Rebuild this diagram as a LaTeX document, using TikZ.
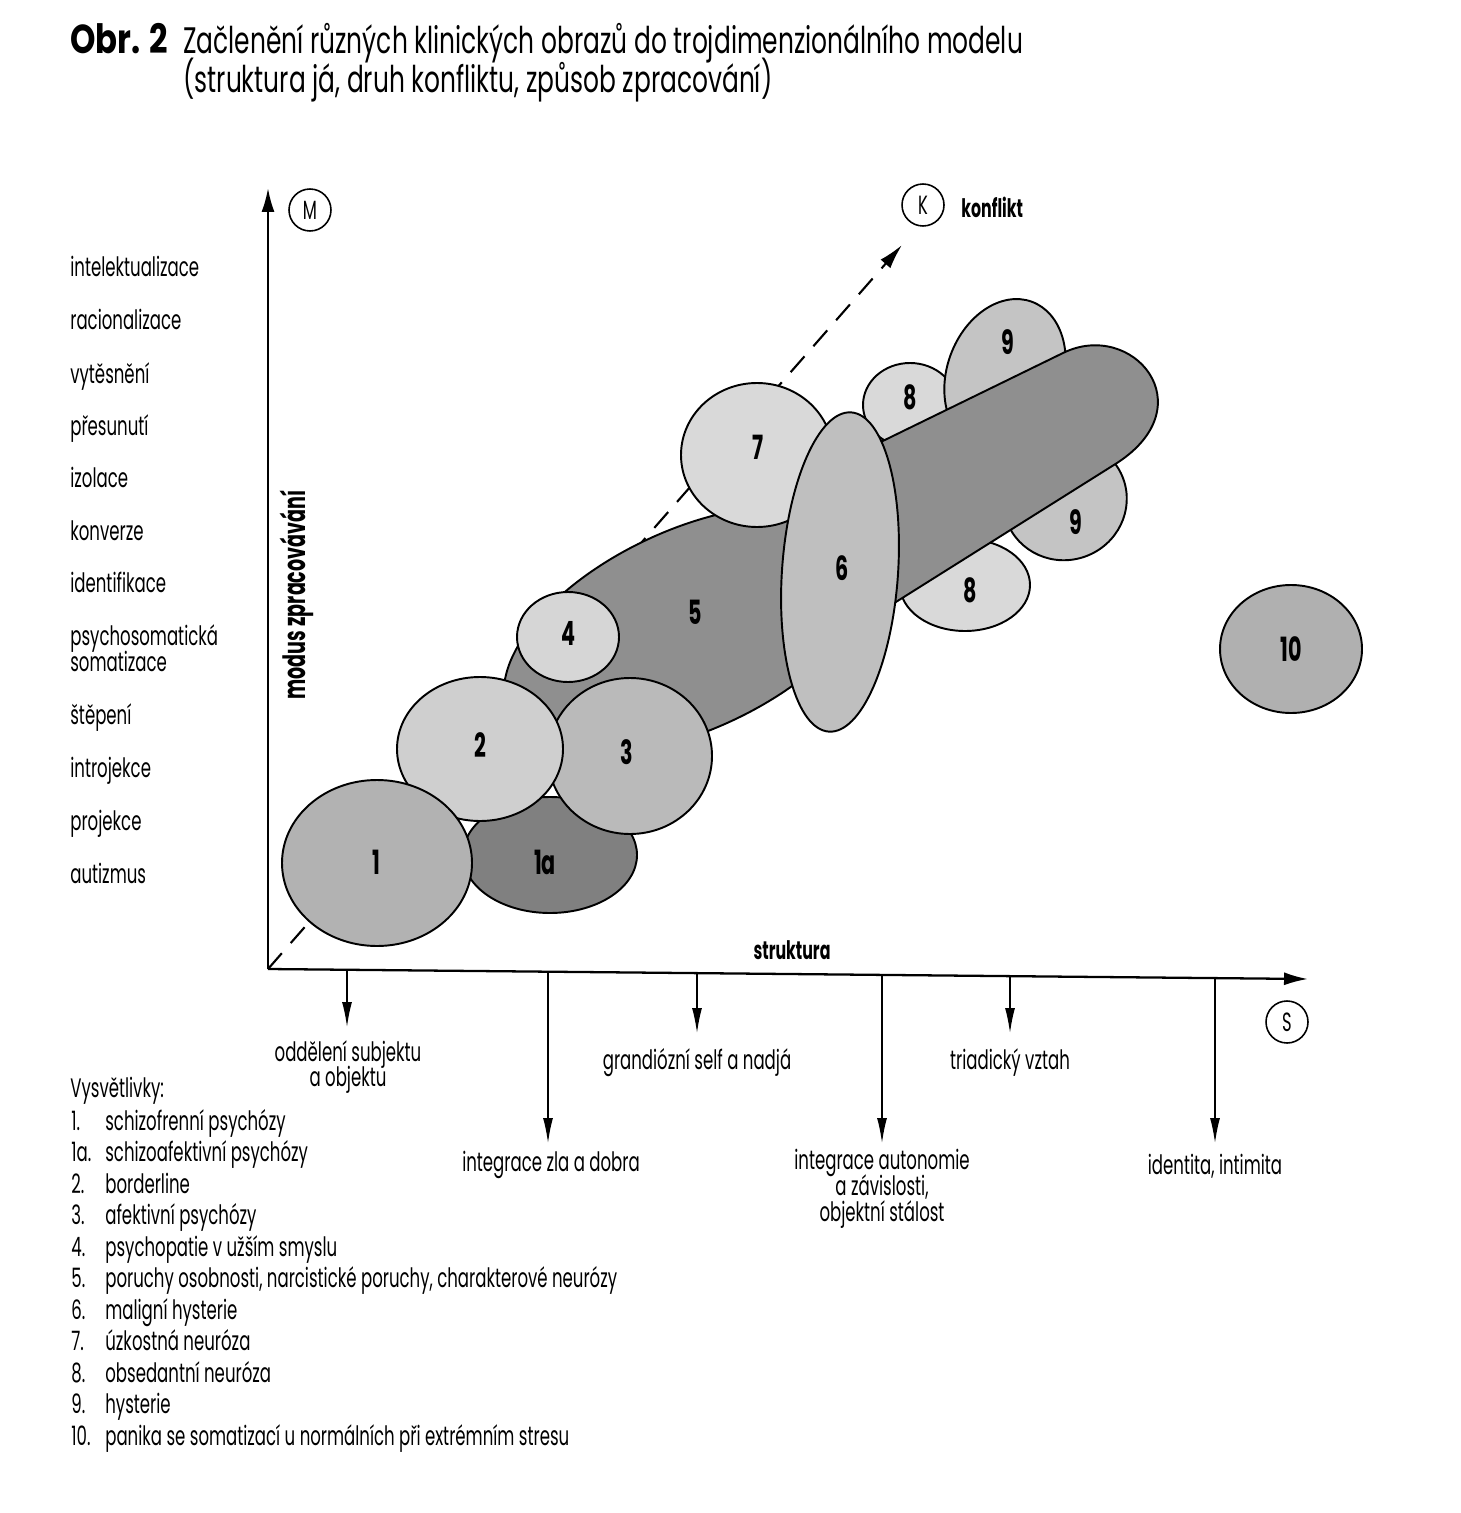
\documentclass[tikz,border=0pt]{standalone}
\usepackage{fontspec}
\setmainfont{Poppins}[FakeStretch=0.62]
\newfontfamily\obrfont{Poppins}[FakeStretch=0.8]
\newfontfamily\titlefont{Poppins}[FakeStretch=0.675]
\usetikzlibrary{arrows.meta}
\definecolor{gA}{gray}{0.70}
\definecolor{gAa}{gray}{0.50}
\definecolor{gB}{gray}{0.81}
\definecolor{gC}{gray}{0.73}
\definecolor{gD}{gray}{0.84}
\definecolor{gE}{gray}{0.56}
\definecolor{gF}{gray}{0.75}
\definecolor{gG}{gray}{0.85}
\definecolor{gH}{gray}{0.85}
\definecolor{gI}{gray}{0.77}
\definecolor{gJ}{gray}{0.69}
\tikzset{
  blob/.style={draw=black, line width=1.1pt},
  lbl/.style={font=\fontsize{15.2}{17}\selectfont, inner sep=0pt, anchor=base},
  lbll/.style={font=\fontsize{15.2}{17}\selectfont, inner sep=0pt, anchor=base west},
  ttl/.style={font=\titlefont\fontsize{21}{24}\selectfont, inner sep=0pt, anchor=base west},
  bold/.style={font=\bfseries\fontsize{14.5}{16}\selectfont, inner sep=0pt},
  num/.style={font=\bfseries\fontsize{19}{22}\selectfont, inner sep=0pt},
  axisline/.style={line width=1.3pt, -{Latex[length=0.48cm,width=0.26cm]}},
  tickarrow/.style={line width=0.8pt, -{Latex[length=0.5cm,width=0.2cm]}},
  letter/.style={circle, draw, line width=0.9pt, minimum size=0.84cm, inner sep=0pt, font=\fontsize{15}{16}\selectfont},
}
\begin{document}
\begin{tikzpicture}[x=0.02cm,y=-0.02cm]
\path[use as bounding box, fill=white] (0,0) rectangle (1460,1513);

% title
\node[font=\obrfont\bfseries\fontsize{23}{26}\selectfont, inner sep=0pt, anchor=base west] (obr) at (70,54) {Obr. 2};
\node[ttl] (t1) at (183,54) {Začlenění různých klinických obrazů do trojdimenzionálního modelu};
\node[ttl] (t2) at (183,93) {(struktura já, druh konfliktu, způsob zpracování)};

% axes coordinates
\coordinate (O) at (268,969);
\coordinate (Mtip) at (268,188);
\coordinate (Stip) at (1308,979);
\coordinate (Ktip) at (902,245);

% dashed conflict axis
\draw[line width=1.2pt, dash pattern=on 0.42cm off 0.27cm, -{Latex[length=0.5cm,width=0.26cm]}] (O) -- (Ktip);

% blobs (back to front)
\draw[blob, fill=gH] (910,405) ellipse [x radius=47, y radius=42];
\draw[blob, fill=gI, rotate around={-20:(1005,375)}] (1005,375) ellipse [x radius=58, y radius=78];
\draw[blob, fill=gI, rotate around={20:(1065,500)}] (1065,500) ellipse [x radius=62, y radius=60];
\draw[blob, fill=gH] (965,585) ellipse [x radius=65, y radius=46];
\draw[blob, fill=gE] (850,457) -- (1063,353) .. controls (1132,319) and (1206,405) .. (1117,463) -- (880,612) -- cycle;
\draw[blob, fill=gE, rotate around={25:(690,630)}] (690,630) ellipse [x radius=200, y radius=100];
\draw[blob, fill=gAa] (550,855) ellipse [x radius=87, y radius=58];
\draw[blob, fill=gC] (630,756) ellipse [x radius=82, y radius=78];
\draw[blob, fill=gB] (480,749) ellipse [x radius=83, y radius=72];
\draw[blob, fill=gA] (377,863) ellipse [x radius=95, y radius=83];
\draw[blob, fill=gD] (568,637) ellipse [x radius=51, y radius=45];
\draw[blob, fill=gG] (757,455) ellipse [x radius=76, y radius=72];
\draw[blob, fill=gF, rotate around={-4:(840,572)}] (840,572) ellipse [x radius=58, y radius=160];
\draw[blob, fill=gJ] (1291,649) ellipse [x radius=71, y radius=64];

% blob numbers
\node[num] (n1) at (376,862) {1};
\node[num] (n1a) at (545,862) {1a};
\node[num] (n2) at (480,745) {2};
\node[num] (n3) at (627,752) {3};
\node[num] (n4) at (568,633) {4};
\node[num] (n5) at (695,612) {5};
\node[num] (n6) at (842,568) {6};
\node[num] (n7) at (758,447) {7};
\node[num] (n8a) at (910,397) {8};
\node[num] (n9a) at (1008,342) {9};
\node[num] (n9b) at (1076,522) {9};
\node[num] (n8b) at (970,590) {8};
\node[num] (n10) at (1291,649) {10};

% main axes
\draw[axisline] (O) -- (Mtip);
\draw[axisline] (O) -- (Stip);

\node[letter] (M) at (310,210) {M};
\node[letter] (K) at (923,205) {K};
\node[letter] (S) at (1287,1022) {S};
\node[bold, anchor=west] (konf) at (961,207) {konflikt};
\node[bold] (strk) at (792,950) {struktura};
\node[font=\bfseries\fontsize{17.5}{19}\selectfont, inner sep=0pt, rotate=90] (modus) at (297,595) {modus zpracovávání};

% tick arrows on structure axis
\coordinate (a1) at (347,969.7);  \coordinate (e1) at (347,1027);
\coordinate (a2) at (548,971.4);  \coordinate (e2) at (548,1143);
\coordinate (a3) at (697,972.7);  \coordinate (e3) at (697,1033);
\coordinate (a4) at (882,974.3);  \coordinate (e4) at (882,1143);
\coordinate (a5) at (1010,975.4); \coordinate (e5) at (1010,1033);
\coordinate (a6) at (1215,977.2); \coordinate (e6) at (1215,1143);
\foreach \i in {1,...,6} { \draw[tickarrow] (a\i) -- (e\i); }

\node[lbl] (b1a) at (348,1061) {oddělení subjektu};
\node[lbl] (b1b) at (348,1086) {a objektu};
\node[lbl] (b2) at (551,1171) {integrace zla a dobra};
\node[lbl] (b3) at (697,1069) {grandiózní self a nadjá};
\node[lbl] (b4a) at (882,1169) {integrace autonomie};
\node[lbl] (b4b) at (882,1195) {a závislosti,};
\node[lbl] (b4c) at (882,1221) {objektní stálost};
\node[lbl] (b5) at (1010,1069) {triadický vztah};
\node[lbl] (b6) at (1215,1174) {identita, intimita};

% left list of defence modes
\node[lbll] (m1) at (70,277) {intelektualizace};
\node[lbll] (m2) at (70,330) {racionalizace};
\node[lbll] (m3) at (70,383) {vytěsnění};
\node[lbll] (m4) at (70,435) {přesunutí};
\node[lbll] (m5) at (70,487) {izolace};
\node[lbll] (m6) at (70,540) {konverze};
\node[lbll] (m7) at (70,592) {identifikace};
\node[lbll] (m8a) at (70,645) {psychosomatická};
\node[lbll] (m8b) at (70,671) {somatizace};
\node[lbll] (m9) at (70,724) {štěpení};
\node[lbll] (m10) at (70,777) {introjekce};
\node[lbll] (m11) at (70,830) {projekce};
\node[lbll] (m12) at (70,883) {autizmus};

% legend
\node[lbll] (vys) at (70,1097) {Vysvětlivky:};
\foreach \n/\t [count=\k from 0] in {1./schizofrenní psychózy, 1a./schizoafektivní psychózy, 2./borderline, 3./afektivní psychózy, 4./psychopatie v užším smyslu, 5./{poruchy osobnosti, narcistické poruchy, charakterové neurózy}, 6./maligní hysterie, 7./úzkostná neuróza, 8./obsedantní neuróza, 9./hysterie, 10./panika se somatizací u normálních při extrémním stresu} {
  \node[lbll] (ln\k) at (71,1130+31.5*\k) {\n};
  \node[lbll] (lt\k) at (105,1130+31.5*\k) {\t};
}
\end{tikzpicture}
\end{document}
